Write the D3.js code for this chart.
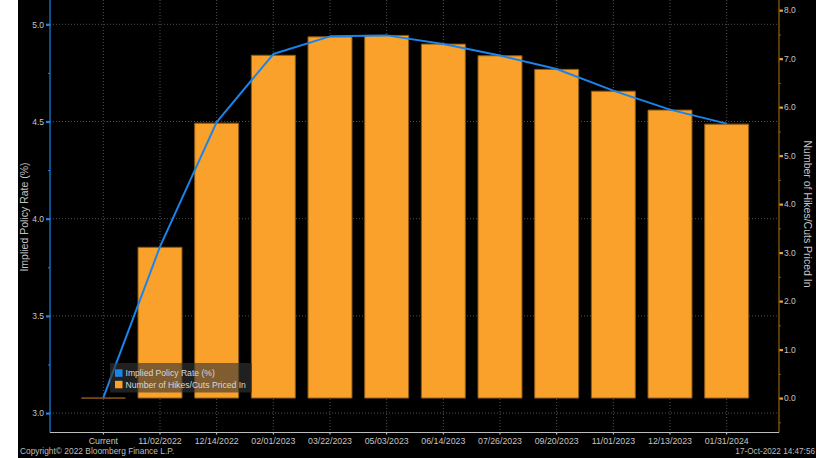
<!DOCTYPE html>
<html>
<head>
<meta charset="utf-8">
<script src="https://cdn.jsdelivr.net/npm/d3@7"></script>
<style>
html,body{margin:0;padding:0;background:#fff;}
svg{display:block;}
text{font-family:"Liberation Sans",Arial,sans-serif;}
</style>
</head>
<body>
<svg id="chart" width="831" height="458"></svg>
<script>
// ---- data ----
const categories = ["Current","11/02/2022","12/14/2022","02/01/2023","03/22/2023","05/03/2023","06/14/2023","07/26/2023","09/20/2023","11/01/2023","12/13/2023","01/31/2024"];
const hikesPricedIn = [0, 3.11, 5.67, 7.07, 7.45, 7.48, 7.30, 7.06, 6.78, 6.33, 5.94, 5.65];
const impliedRate = [3.079, 3.856, 4.497, 4.847, 4.938, 4.943, 4.899, 4.839, 4.770, 4.659, 4.561, 4.489];
const leftTicks = [3.0, 3.5, 4.0, 4.5, 5.0];
const leftMinorTicks = [3.25, 3.75, 4.25, 4.75];
const rightTicks = [0, 1, 2, 3, 4, 5, 6, 7, 8];
const rightMinorTicks = [-0.5, 0.5, 1.5, 2.5, 3.5, 4.5, 5.5, 6.5, 7.5];
const seriesNames = ["Implied Policy Rate (%)", "Number of Hikes/Cuts Priced In"];
const leftTitle = "Implied Policy Rate (%)";
const rightTitle = "Number of Hikes/Cuts Priced In";
const footerLeft = "Copyright\u00A9 2022 Bloomberg Finance L.P.";
const footerRight = "17-Oct-2022 14:47:56";

// ---- layout ----
const W = 831, H = 458;
const plotL = 50, plotR = 779, plotT = 0, plotB = 432.5;
const BLUE = "#1a84ec", ORANGE = "#f9a12b", ORANGE_EDGE = "#8a5a16", AXIS_R = "#8b5a14";
const TXT = "#c4c4c4", GRID = "#505050";

const svg = d3.select("#chart");
svg.append("rect").attr("x",18).attr("y",0).attr("width",816-18).attr("height",H).attr("fill","#000");

const x = d3.scaleBand().domain(categories).range([75, 755]).paddingInner(0.224).paddingOuter(0.112);
const cx = d => x(d) + x.bandwidth()/2;
const yL = d3.scaleLinear().domain([2.9, 5.125]).range([plotB, plotT]);
const yR = d3.scaleLinear().domain([-0.71, 8.21]).range([plotB, plotT]);

// grid
const grid = svg.append("g");
grid.selectAll("line.h").data(leftTicks).join("line")
  .attr("x1", plotL).attr("x2", plotR)
  .attr("y1", d => yL(d)).attr("y2", d => yL(d))
  .attr("stroke", GRID).attr("stroke-width", 1).attr("stroke-dasharray", "1,2");
grid.selectAll("line.v").data(categories).join("line")
  .attr("x1", d => cx(d)).attr("x2", d => cx(d))
  .attr("y1", plotT).attr("y2", plotB)
  .attr("stroke", GRID).attr("stroke-width", 1).attr("stroke-dasharray", "1,2");

// bars
const bw = x.bandwidth();
svg.append("g").selectAll("path").data(categories).join("path")
  .attr("d", (d,i) => {
    const x0 = x(d), y0 = yR(0), y1 = yR(hikesPricedIn[i]);
    return `M${x0},${y0}V${y1}H${x0+bw}V${y0}Z`;
  })
  .attr("fill", ORANGE).attr("stroke", ORANGE_EDGE).attr("stroke-width", 1);

// line
const line = d3.line().x((d,i) => cx(categories[i])).y(d => yL(d));
svg.append("path").datum(impliedRate).attr("d", line)
  .attr("fill", "none").attr("stroke", BLUE).attr("stroke-width", 2).attr("stroke-linejoin","round");

// legend
const lg = svg.append("g");
lg.append("rect").attr("x",110).attr("y",363).attr("width",142).attr("height",29.5)
  .attr("fill","rgba(52,52,52,0.62)");
const legColors = [BLUE, ORANGE];
seriesNames.forEach((n,i) => {
  lg.append("rect").attr("x",115).attr("y",369.3 + i*11.5).attr("width",7.5).attr("height",7.5).attr("fill",legColors[i]);
  lg.append("text").attr("x",125.5).attr("y",376.3 + i*11.5).attr("fill","#d8d8d8").attr("font-size","8.6px").text(n);
});

// left axis
const gl = svg.append("g").attr("transform",`translate(${plotL},0)`);
gl.call(d3.axisLeft(yL).tickValues(leftTicks).tickSize(4).tickPadding(2).tickFormat(d3.format(".1f")));
gl.select(".domain").remove();
gl.selectAll(".tick line").attr("stroke", BLUE).attr("stroke-width", 2.2);
gl.selectAll(".tick text").attr("fill", TXT).attr("font-size","8.5px").attr("font-family","Liberation Sans, Arial, sans-serif");
const glm = svg.append("g").attr("transform",`translate(${plotL},0)`);
glm.call(d3.axisLeft(yL).tickValues(leftMinorTicks).tickSize(2).tickFormat(""));
glm.select(".domain").remove();
glm.selectAll(".tick line").attr("stroke", BLUE).attr("stroke-width", 1);
svg.append("line").attr("x1",plotL).attr("x2",plotL).attr("y1",plotT).attr("y2",plotB)
  .attr("stroke",BLUE).attr("stroke-width",1.2);

// right axis
const gr = svg.append("g").attr("transform",`translate(${plotR},0)`);
gr.call(d3.axisRight(yR).tickValues(rightTicks).tickSize(4).tickPadding(1).tickFormat(d3.format(".1f")));
gr.select(".domain").remove();
gr.selectAll(".tick line").attr("stroke", "#f0a030").attr("stroke-width", 2.2);
gr.selectAll(".tick text").attr("fill", TXT).attr("font-size","8.5px").attr("font-family","Liberation Sans, Arial, sans-serif");
const grm = svg.append("g").attr("transform",`translate(${plotR},0)`);
grm.call(d3.axisRight(yR).tickValues(rightMinorTicks).tickSize(2).tickFormat(""));
grm.select(".domain").remove();
grm.selectAll(".tick line").attr("stroke", AXIS_R).attr("stroke-width", 1);
svg.append("line").attr("x1",plotR).attr("x2",plotR).attr("y1",plotT).attr("y2",plotB)
  .attr("stroke",AXIS_R).attr("stroke-width",1.3);

// bottom axis
const gb = svg.append("g").attr("transform",`translate(0,${plotB})`);
gb.call(d3.axisBottom(x).tickSize(2).tickPadding(3));
gb.select(".domain").remove();
gb.selectAll(".tick line").attr("stroke","#ddd").attr("stroke-width",1);
gb.selectAll(".tick text").attr("fill", TXT).attr("font-size","8.8px").attr("font-family","Liberation Sans, Arial, sans-serif");
svg.append("line").attr("x1",plotL).attr("x2",plotR).attr("y1",plotB).attr("y2",plotB)
  .attr("stroke","#bdbdbd").attr("stroke-width",1);

// axis titles
svg.append("text").attr("transform",`translate(28,217) rotate(-90)`).attr("text-anchor","middle")
  .attr("fill",TXT).attr("font-size","10.5px").text(leftTitle);
svg.append("text").attr("transform",`translate(804,214) rotate(90)`).attr("text-anchor","middle")
  .attr("fill",TXT).attr("font-size","10.5px").text(rightTitle);

// footer
svg.append("text").attr("x",20).attr("y",454).attr("fill","#bdbdbd").attr("font-size","8.4px").text(footerLeft);
svg.append("text").attr("x",815).attr("y",454).attr("text-anchor","end").attr("fill","#bdbdbd").attr("font-size","8.2px").text(footerRight);
</script>
</body>
</html>
